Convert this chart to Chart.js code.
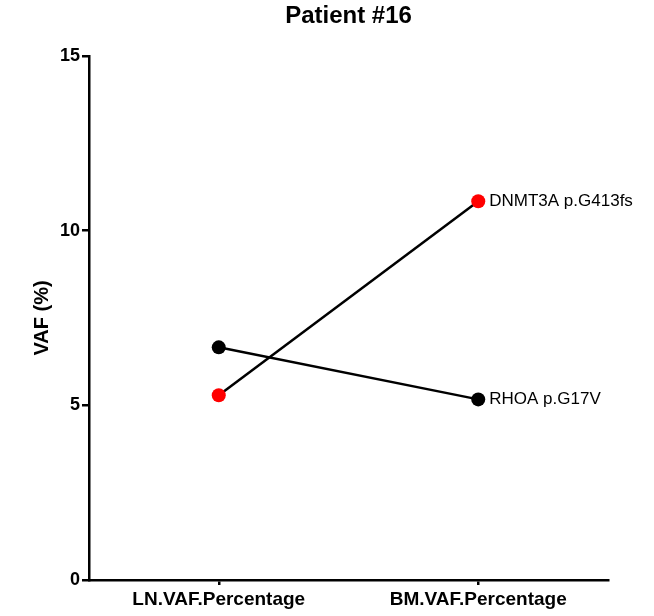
<!DOCTYPE html>
<html>
<head>
<meta charset="utf-8">
<script src="https://cdn.jsdelivr.net/npm/chart.js@4"></script>
<style>
  html, body { margin: 0; padding: 0; background: #fff; }
  #wrap { width: 654px; height: 616px; }
</style>
</head>
<body>
<div id="wrap"><canvas id="vafChart" width="654" height="616"></canvas></div>
<script>
// Patient #16 — VAF LN vs BM
const categories = ['LN.VAF.Percentage', 'BM.VAF.Percentage'];
const rhoaValues = [6.66, 5.17];
const dnmt3aValues = [5.29, 10.84];
const mutationLabels = ['RHOA p.G17V', 'DNMT3A p.G413fs'];
const yTicks = [0, 5, 10, 15];
const chartTitle = 'Patient #16';

const FONT = '"Liberation Sans", Arial, sans-serif';

// etiqueta a la derecha del último punto de cada serie + título centrado sobre el área
const endLabels = {
  id: 'endLabels',
  afterDatasetsDraw(chart) {
    const ctx = chart.ctx;
    const area = chart.chartArea;
    ctx.save();
    ctx.font = '17px ' + FONT;
    ctx.fillStyle = '#000';
    ctx.textBaseline = 'middle';
    chart.data.datasets.forEach((ds, i) => {
      const meta = chart.getDatasetMeta(i);
      const pt = meta.data[meta.data.length - 1];
      ctx.fillText(ds.label, pt.x + 11, pt.y);
    });
    ctx.font = 'bold 24px ' + FONT;
    ctx.textAlign = 'center';
    ctx.fillText(chartTitle, (area.left + area.right) / 2, 16);
    ctx.restore();
  }
};

new Chart(document.getElementById('vafChart'), {
  type: 'line',
  data: {
    labels: categories,
    datasets: [
      {
        label: mutationLabels[0],
        data: rhoaValues,
        borderColor: '#000',
        backgroundColor: '#000',
        borderWidth: 2.5,
        pointRadius: 7,
        pointBorderWidth: 0,
      },
      {
        label: mutationLabels[1],
        data: dnmt3aValues,
        borderColor: '#000',
        backgroundColor: '#ff0000',
        pointBackgroundColor: '#ff0000',
        borderWidth: 2.5,
        pointRadius: 7,
        pointBorderWidth: 0,
      }
    ]
  },
  options: {
    responsive: false,
    animation: false,
    layout: { padding: { top: 56, right: 46, left: 0, bottom: 0 } },
    plugins: {
      legend: { display: false },
      tooltip: { enabled: false },
      title: { display: false }
    },
    scales: {
      x: {
        type: 'category',
        offset: true,
        grid: { offset: false, drawOnChartArea: false, color: '#000', tickLength: 5, lineWidth: 2.5 },
        border: { color: '#000', width: 2.5 },
        ticks: { color: '#000', font: { family: FONT, size: 19, weight: 'bold' }, padding: 3 },
        afterFit: s => { s.height = 36; }
      },
      y: {
        min: 0,
        max: 15,
        afterBuildTicks: s => { s.ticks = yTicks.map(v => ({ value: v })); },
        grid: { drawOnChartArea: false, color: '#000', tickLength: 7, lineWidth: 2.5 },
        border: { color: '#000', width: 2.5 },
        ticks: { color: '#000', font: { family: FONT, size: 18, weight: 'bold' }, padding: 2 },
        title: {
          display: true,
          text: 'VAF (%)',
          color: '#000',
          font: { family: FONT, size: 20, weight: 'bold' },
          padding: { top: 30, bottom: 0 }
        },
        afterFit: s => { s.width = 89; }
      }
    }
  },
  plugins: [endLabels]
});
</script>
</body>
</html>
